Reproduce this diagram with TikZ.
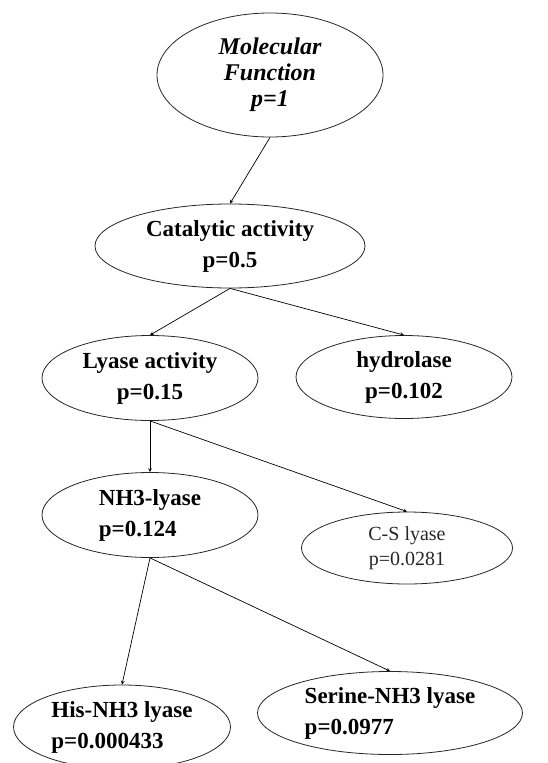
\documentclass[tikz,border=0pt]{standalone}
\usepackage{fontspec}
\setmainfont{Liberation Serif}
\usetikzlibrary{shapes.geometric, arrows}
\tikzstyle{goterm} = [ellipse, draw=black!85, line width=0.8pt, inner sep=0pt, text centered, align=center, font=\fontsize{23}{31}\selectfont\bfseries]
\tikzstyle{arrow} = [line width=0.7pt,->,>=stealth]

\begin{document}
\begin{tikzpicture}[x=1pt,y=-1pt]
\useasboundingbox (0,0) rectangle (547,763);
% GO terms
\node (mf) [goterm, minimum width=226pt, minimum height=124pt, font=\fontsize{24}{26}\selectfont\bfseries\itshape] at (270,75) {Molecular\\Function\\p=1};
\node (cat) [goterm, minimum width=270pt, minimum height=84pt] at (230,246) {Catalytic activity\\p=0.5};
\node (lya) [goterm, minimum width=216pt, minimum height=85pt] at (150,378) {Lyase activity\\p=0.15};
\node (hyd) [goterm, minimum width=216pt, minimum height=83pt] at (404,377) {hydrolase\\p=0.102};
\node (nh3) [goterm, minimum width=216pt, minimum height=85pt, align=left] at (150,515) {NH3-lyase\\p=0.124};
\node (csl) [goterm, minimum width=211pt, minimum height=72pt, font=\fontsize{20}{25}\selectfont, text=black!85] at (407,548) {C-S lyase\\p=0.0281};
\node (his) [goterm, minimum width=217pt, minimum height=84pt, align=left] at (122,727) {His-NH3 lyase\\p=0.000433};
\node (ser) [goterm, minimum width=265pt, minimum height=83pt, align=left] at (390,713) {Serine-NH3 lyase\\p=0.0977};
% edges
\draw [arrow] (mf.south) -- (cat.north);
\draw [arrow] (cat.south) -- (lya.north);
\draw [arrow] (cat.south) -- (hyd.north);
\draw [arrow] (lya.south) -- (nh3.north);
\draw [arrow] (lya.south) -- (csl.north);
\draw [arrow] (nh3.south) -- (his.north);
\draw [arrow] (nh3.south) -- (ser.north);
\end{tikzpicture}
\end{document}
